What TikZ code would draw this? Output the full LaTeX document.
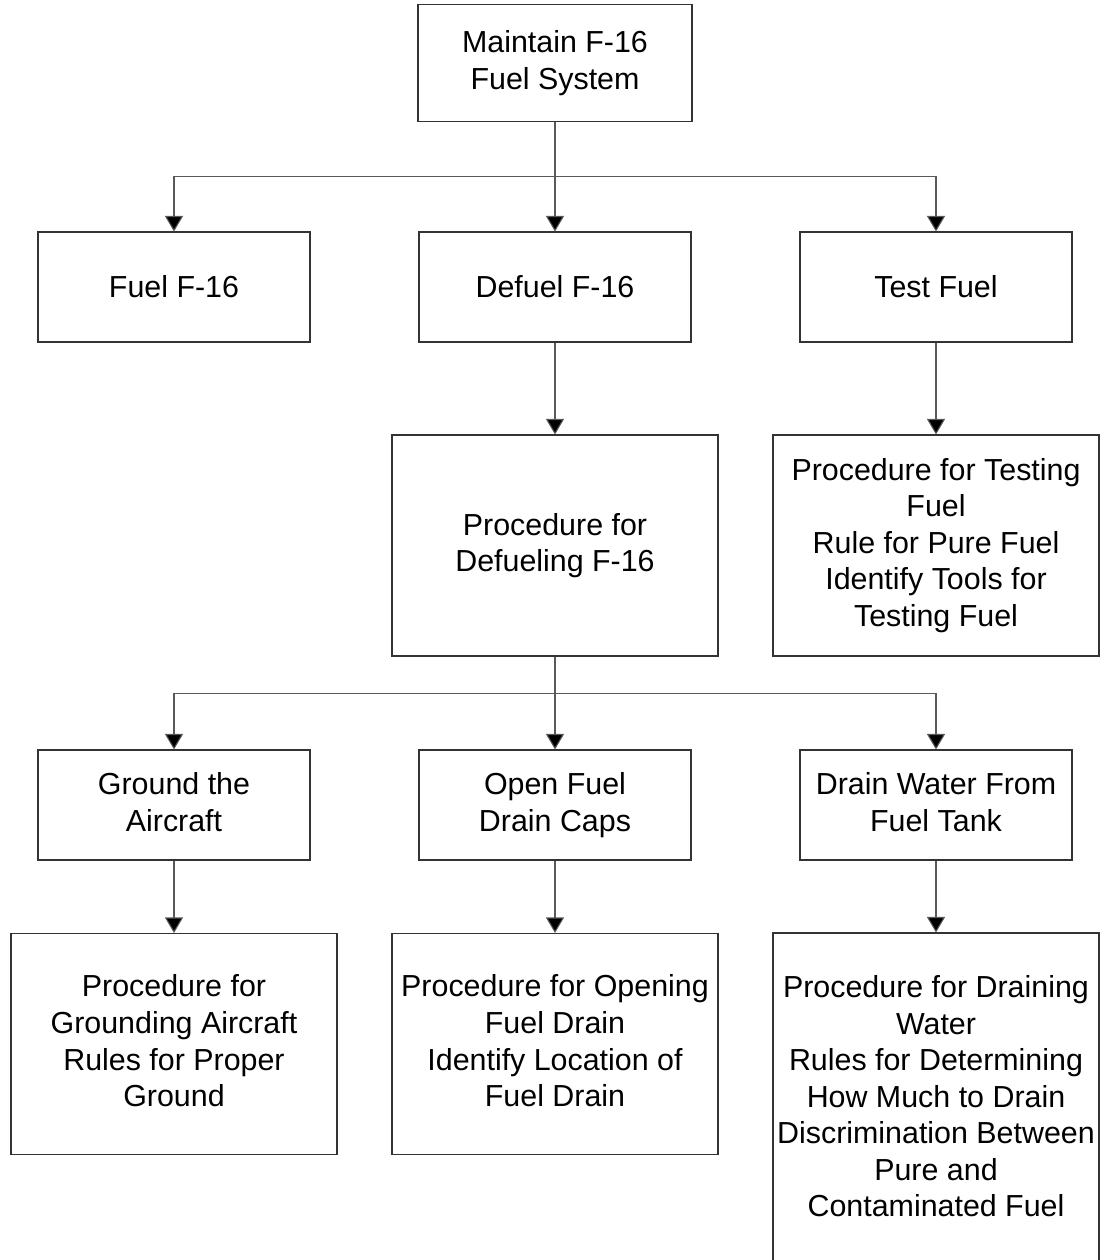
\documentclass[tikz,border=0pt]{standalone}
\usepackage{fontspec}
\setmainfont{Liberation Sans}
\usetikzlibrary{arrows.meta}

\begin{document}
\begin{tikzpicture}[
    box/.style={draw=black!80, line width=0.6pt, align=center, inner sep=0pt,
        font=\fontsize{17.3}{20.8}\selectfont,
        execute at begin node=\rule{0pt}{15.66pt},
        execute at end node=\rule[-3.67pt]{0pt}{3.67pt}},
    small/.style={box, minimum width=5.44cm, minimum height=2.2cm},
    big/.style={box, minimum width=6.52cm, minimum height=4.42cm},
    arr/.style={draw=black!65, line width=0.6pt,
        -{Triangle[width=0.36cm,length=0.31cm,fill=black]}}
]
    \useasboundingbox (0,0) rectangle (22.04,-25.2);
    \clip (0,0) rectangle (22.04,-25.2);

    % Nodes
    \node at (11.1, -1.26) (top) [box, minimum width=5.48cm, minimum height=2.34cm] {Maintain F-16\\Fuel System};
    \node at (3.48, -5.74) (fuel) [small] {Fuel F-16};
    \node at (11.1, -5.74) (defuel) [small] {Defuel F-16};
    \node at (18.72, -5.74) (test) [small] {Test Fuel};
    \node at (11.1, -10.91) (pdefuel) [big] {Procedure for\\Defueling F-16};
    \node at (18.72, -10.91) (ptest) [big] {Procedure for Testing\\Fuel\\Rule for Pure Fuel\\Identify Tools for\\Testing Fuel};
    \node at (3.48, -16.1) (ground) [small] {Ground the\\Aircraft};
    \node at (11.1, -16.1) (open) [small] {Open Fuel\\Drain Caps};
    \node at (18.72, -16.1) (drain) [small] {Drain Water From\\Fuel Tank};
    \node at (3.48, -20.88) (pground) [big] {Procedure for\\Grounding Aircraft\\Rules for Proper\\Ground};
    \node at (11.1, -20.88) (popen) [big] {Procedure for Opening\\Fuel Drain\\Identify Location of\\Fuel Drain};
    \node at (18.72, -21.99) (pdrain) [big, minimum height=6.66cm] {Procedure for Draining\\Water\\Rules for Determining\\How Much to Drain\\Discrimination Between\\Pure and\\Contaminated Fuel};

    % Arrows
    \draw[arr] (top.south) -- ++(0, -1.08) -| (fuel.north);
    \draw[arr] (top.south) -- (defuel.north);
    \draw[arr] (top.south) -- ++(0, -1.08) -| (test.north);
    \draw[arr] (defuel) -- (pdefuel);
    \draw[arr] (test) -- (ptest);
    \draw[arr] (pdefuel.south) -- ++(0, -0.74) -| (ground.north);
    \draw[arr] (pdefuel.south) -- (open.north);
    \draw[arr] (pdefuel.south) -- ++(0, -0.74) -| (drain.north);
    \draw[arr] (ground) -- (pground);
    \draw[arr] (open) -- (popen);
    \draw[arr] (drain) -- (pdrain);
\end{tikzpicture}
\end{document}
